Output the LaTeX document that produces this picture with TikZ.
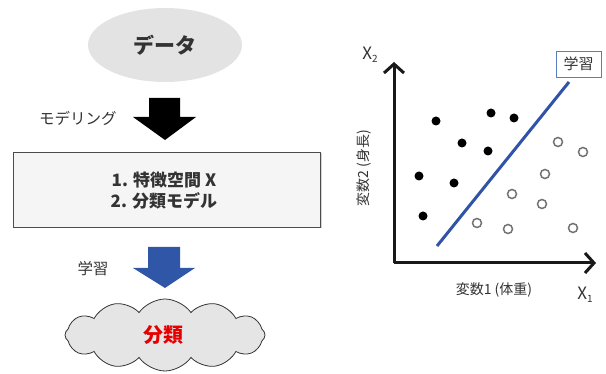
\documentclass[tikz,border=0pt]{standalone}
\usepackage{fontspec}
\setmainfont{Noto Sans CJK JP}
\usetikzlibrary{shapes.geometric,shapes.symbols,shadows,arrows.meta}
\definecolor{arrowblue}{HTML}{3056A8}
\definecolor{lineblue}{HTML}{2F53A6}
\definecolor{boxblue}{HTML}{5A7CC0}
\definecolor{txtgray}{HTML}{333333}
\begin{document}
\begin{tikzpicture}[x=1pt,y=-1pt,
  lbl/.style={font=\fontsize{15.5}{18}\selectfont, text=txtgray, inner sep=0pt},
  axlbl/.style={font=\fontsize{14}{16}\selectfont, text=txtgray, inner sep=0pt},
  boxtxt/.style={font=\fontsize{17}{20}\selectfont\bfseries, text=txtgray, inner sep=0pt},
  fdot/.style={circle, fill=black, inner sep=0pt, minimum size=9pt},
  odot/.style={circle, draw=black!55, line width=1.5pt, fill=white, inner sep=0pt, minimum size=9pt},
  axis/.style={line width=3pt, draw=black!90, -{Straight Barb[length=9pt,width=20pt,line width=3pt]}}]
\useasboundingbox (0,0) rectangle (606,374);
% left flow
\node[ellipse, fill=gray!22, minimum width=154pt, minimum height=74pt, inner sep=0pt,
  font=\fontsize{21}{24}\selectfont\bfseries, text=txtgray] (data) at (165,45) {データ};
\fill[black] (149,98) -- (180,98) -- (180,117) -- (196,117) -- (165,140) -- (133,117) -- (149,117) -- cycle;
\node[lbl, anchor=west] (model) at (39,118) {モデリング};
\node[draw=black!70, line width=0.8pt, fill=gray!8, minimum width=307pt, minimum height=75pt,
  drop shadow={opacity=0.35, shadow xshift=1.5pt, shadow yshift=-1.5pt}] (box) at (166.5,189.5) {};
\node[boxtxt] (t1) at (164,180) {1. 特徴空間 X};
\node[boxtxt] (t2) at (164,201) {2. 分類モデル};
\fill[arrowblue] (148,247) -- (180,247) -- (180,268) -- (195,268) -- (165,288) -- (133,268) -- (148,268) -- cycle;
\node[lbl] (learn) at (93,269) {学習};
\node[cloud, cloud puffs=12, cloud puff arc=110, aspect=2.8, draw=black!80, line width=0.8pt,
  fill=gray!20, minimum width=200pt, minimum height=72pt, inner sep=0pt] (cl) at (165,335) {};
\node[font=\fontsize{20}{22}\selectfont\bfseries, text=red!90!black, inner sep=0pt] (cls) at (163,335) {分類};
% right plot
\coordinate (O) at (394,263);
\coordinate (Ytip) at (394,62);
\coordinate (Xtip) at (596,263);
\draw[axis] (O) -- (Ytip);
\draw[axis] (O) -- (Xtip);
\node[font=\fontsize{17}{18}\selectfont, text=txtgray, inner sep=0pt] (x2) at (370,55) {X\raisebox{-0.35ex}{\fontsize{10}{12}\selectfont 2}};
\node[font=\fontsize{17}{18}\selectfont, text=txtgray, inner sep=0pt] (x1) at (585,295) {X\raisebox{-0.35ex}{\fontsize{10}{12}\selectfont 1}};
\node[axlbl] (v1) at (494,290) {変数1 (体重)};
\node[axlbl, rotate=90] (v2) at (364,168) {変数2 (身長)};
\node[draw=boxblue, line width=0.8pt, fill=white, minimum width=45pt, minimum height=26pt, inner sep=0pt,
  font=\fontsize{15}{16}\selectfont, text=txtgray] (lb) at (578.5,64) {学習};
\coordinate (L1) at (569,82);
\coordinate (L2) at (437,246);
\draw[lineblue, line width=3pt] (L1) -- (L2);
\foreach \p [count=\i] in {(436,121),(491,113),(514,118),(462,143),(488,151),(419,176),(454,183),(423,216)}
  \node[fdot] (f\i) at \p {};
\foreach \p [count=\i] in {(558,142),(583,152),(545,174),(512,194),(542,204),(477,223),(508,229),(573,228)}
  \node[odot] (o\i) at \p {};
\end{tikzpicture}
\end{document}
